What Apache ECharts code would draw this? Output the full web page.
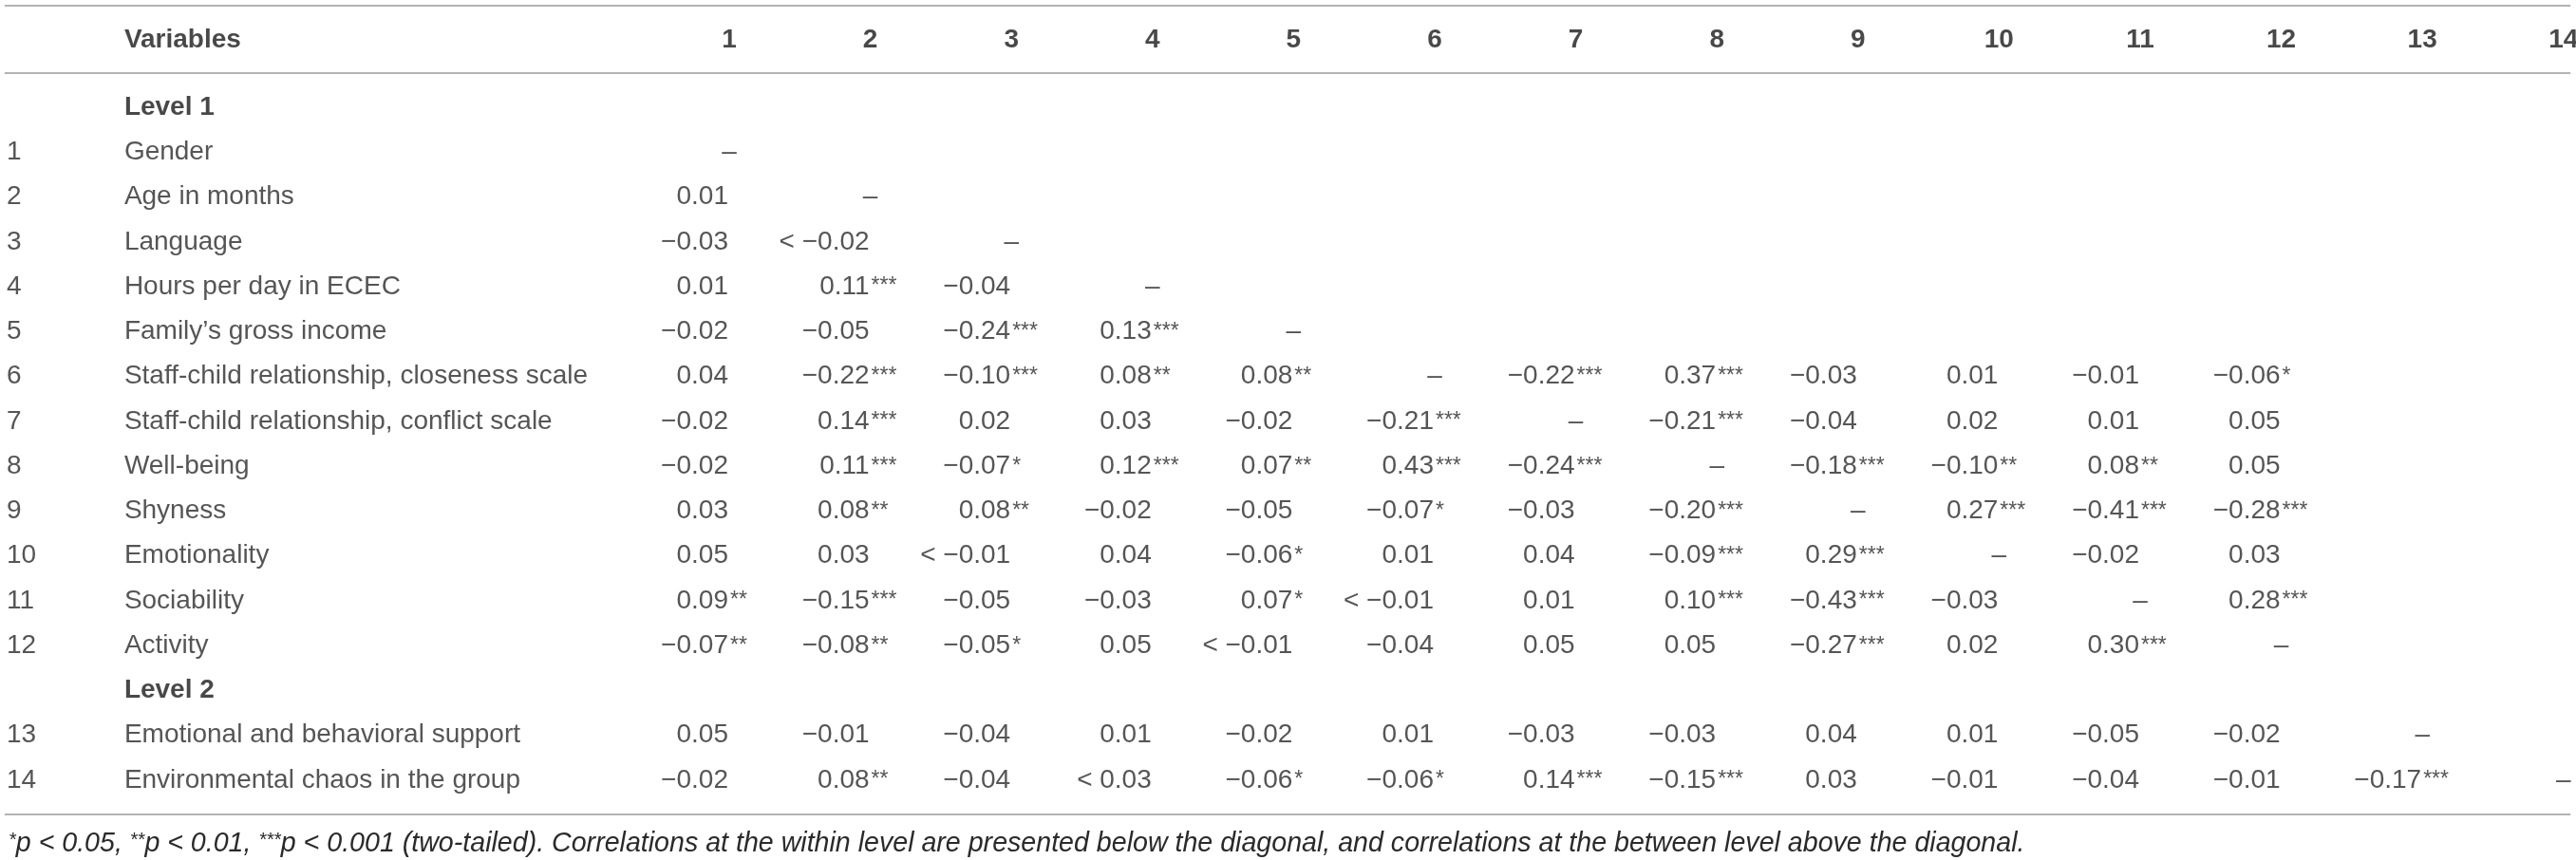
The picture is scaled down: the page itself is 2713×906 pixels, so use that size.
<!DOCTYPE html>
<html>
<head>
<meta charset="utf-8">
<title>Correlations</title>
<script src="https://cdn.jsdelivr.net/npm/echarts@6/dist/echarts.min.js"></script>
<style>
html, body {margin:0; padding:0; background:#ffffff;}
#main {width:2713px; height:906px;}
</style>
</head>
<body>
<div id="main"></div>
<script>
// 表格数据
var colHeaders = ['1','2','3','4','5','6','7','8','9','10','11','12','13','14'];
var rowNumbers = ['1','2','3','4','5','6','7','8','9','10','11','12','13','14'];
var variables = [
	'Gender', 'Age in months', 'Language', 'Hours per day in ECEC', 'Family\u2019s gross income',
	'Staff-child relationship, closeness scale', 'Staff-child relationship, conflict scale',
	'Well-being', 'Shyness', 'Emotionality', 'Sociability', 'Activity',
	'Emotional and behavioral support', 'Environmental chaos in the group'
];
var levels = ['Level 1', 'Level 2'];
var levelBefore = [1, 13];   // level heading sits above this variable
var corrRows = [
	['–'],
	['0.01','–'],
	['−0.03','< −0.02','–'],
	['0.01','0.11***','−0.04','–'],
	['−0.02','−0.05','−0.24***','0.13***','–'],
	['0.04','−0.22***','−0.10***','0.08**','0.08**','–','−0.22***','0.37***','−0.03','0.01','−0.01','−0.06*'],
	['−0.02','0.14***','0.02','0.03','−0.02','−0.21***','–','−0.21***','−0.04','0.02','0.01','0.05'],
	['−0.02','0.11***','−0.07*','0.12***','0.07**','0.43***','−0.24***','–','−0.18***','−0.10**','0.08**','0.05'],
	['0.03','0.08**','0.08**','−0.02','−0.05','−0.07*','−0.03','−0.20***','–','0.27***','−0.41***','−0.28***'],
	['0.05','0.03','< −0.01','0.04','−0.06*','0.01','0.04','−0.09***','0.29***','–','−0.02','0.03'],
	['0.09**','−0.15***','−0.05','−0.03','0.07*','< −0.01','0.01','0.10***','−0.43***','−0.03','–','0.28***'],
	['−0.07**','−0.08**','−0.05*','0.05','< −0.01','−0.04','0.05','0.05','−0.27***','0.02','0.30***','–'],
	['0.05','−0.01','−0.04','0.01','−0.02','0.01','−0.03','−0.03','0.04','0.01','−0.05','−0.02','–'],
	['−0.02','0.08**','−0.04','< 0.03','−0.06*','−0.06*','0.14***','−0.15***','0.03','−0.01','−0.04','−0.01','−0.17***','–']
];
var footnote = [
	['*', 'p < 0.05, '], ['**', 'p < 0.01, '], ['***', 'p < 0.001 (two-tailed). Correlations at the within level are presented below the diagonal, and correlations at the between level above the diagonal.']
];

// 版面
var FONT = "'Liberation Sans', Arial, sans-serif";
var INK = '#2a2a2a';
var X_NUM = -4.128, X_LAB = -3.294, X_L = -4.135, X_R = 14.05;
var Y_HEAD = -1.5;
var RULES = [-2.26, -0.76, 15.76];

// 行号 -> y 轴位置 (Level 行占位)
function rowY(i) {
	var y = i;
	if (i >= levelBefore[1]) y += 1;
	return y;
}

var bodyData = [], starData = [], dashData = [], labData = [], numData = [];
for (var i = 0; i < corrRows.length; i++) {
	var y = rowY(i + 1);
	labData.push({value:[X_LAB, y], t: variables[i]});
	numData.push({value:[X_NUM, y], t: rowNumbers[i]});
	for (var j = 0; j < corrRows[i].length; j++) {
		var s = corrRows[i][j];
		if (s == '–') {
			dashData.push({value:[j + 1, y], t: s});
			continue;
		}
		var m = s.match(/\*+$/);
		bodyData.push({value:[j + 1, y], t: s.replace(/\*+$/, '')});
		if (m) starData.push({value:[j + 1, y], t: m[0]});
	}
}
var headData = [];
for (var k = 0; k < colHeaders.length; k++) {
	headData.push({value:[k + 1, Y_HEAD], t: colHeaders[k]});
}
var boldData = [{value:[X_LAB, Y_HEAD], t:'Variables'}];
for (var k = 0; k < levels.length; k++) {
	boldData.push({value:[X_LAB, levelBefore[k] == 1 ? 0 : rowY(levelBefore[k]) - 1], t: levels[k]});
}

function textSeries(name, data, label) {
	var lbl = {
		show: true,
		formatter: function(p) { return p.data.t; },
		color: INK,
		fontFamily: FONT,
		fontSize: 28,
		fontWeight: 'normal'
	};
	for (var key in label) lbl[key] = label[key];
	return {
		name: name,
		type: 'scatter',
		symbolSize: 2,
		itemStyle: {color: 'rgba(255,255,255,0)'},
		silent: true,
		data: data,
		label: lbl,
		labelLayout: {hideOverlap: false}
	};
}

var fnText = '';
for (var k = 0; k < footnote.length; k++) {
	fnText += '{s|' + footnote[k][0] + '}{i|' + footnote[k][1] + '}';
}

var series = [
	textSeries('body', bodyData, {position:'left', distance:0}),
	textSeries('stars', starData, {position:'right', distance:0, fontSize:23, offset:[-1,-6]}),
	textSeries('dash', dashData, {position:'inside', offset:[-50,0]}),
	textSeries('head', headData, {position:'inside', offset:[-30,0], fontWeight:'bold', color:'#1a1a1a'}),
	textSeries('labels', labData, {position:'right', distance:0}),
	textSeries('rownum', numData, {position:'right', distance:0}),
	textSeries('bold', boldData, {position:'right', distance:0, fontWeight:'bold', color:'#1a1a1a'})
];
// 表格横线
series.push({
	type: 'line',
	data: [],
	silent: true,
	markLine: {
		symbol: 'none',
		silent: true,
		animation: false,
		label: {show: false},
		lineStyle: {color:'#b3b3b3', width:2, type:'solid'},
		data: RULES.map(function(r) {
			return [{coord:[X_L, r]}, {coord:[X_R, r]}];
		})
	}
});

var option = {
	backgroundColor: '#ffffff',
	animation: false,
	title: {
		text: fnText,
		left: 4,
		top: 870,
		textStyle: {
			fontWeight: 'normal',
			rich: {
				i: {fontFamily: FONT, fontSize: 28.6, fontStyle: 'italic', fontWeight: 'normal', color: INK},
				s: {fontFamily: FONT, fontSize: 20, fontStyle: 'italic', fontWeight: 'normal', color: INK, verticalAlign: 'top', padding:[0,0,8,0]}
			}
		}
	},
	grid: {left:0, right:0, top:0, bottom:0},
	xAxis: {type:'value', min:-4.168, max:14.089, show:false},
	yAxis: {type:'value', inverse:true, min:-2.3905, max:16.776, show:false},
	series: series
};

var chart = echarts.init(document.getElementById('main'));
chart.setOption(option);
</script>
</body>
</html>
